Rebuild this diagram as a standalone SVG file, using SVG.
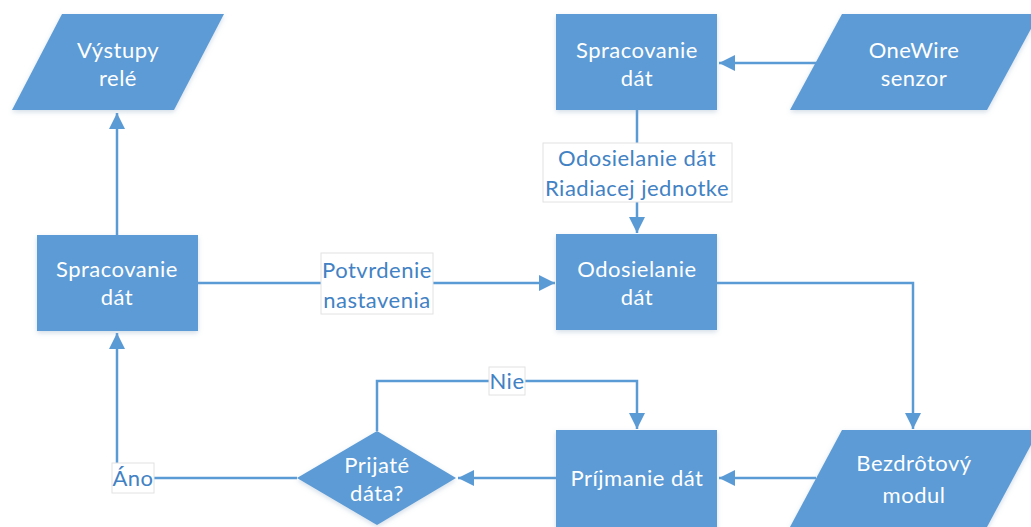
<svg xmlns="http://www.w3.org/2000/svg" width="1031" height="527" viewBox="0 0 1031 527">
  <defs>
    <style>
      .node { fill: #5B9BD5; filter: url(#shadow); }
      .ntext { fill: #FFFFFF; font-family: Lato, "Open Sans", sans-serif; font-size: 22px; letter-spacing: 0.5px; text-anchor: middle; }
      .edge { fill: none; stroke: #5B9BD5; stroke-width: 2.5; }
      .lbox { fill: #FFFFFF; stroke: #E2E2E2; stroke-width: 1; }
      .ltext { fill: #4282C4; font-family: Lato, "Open Sans", sans-serif; font-size: 22px; letter-spacing: 0.5px; text-anchor: middle; }
    </style>
    <filter id="shadow" x="-10%" y="-10%" width="120%" height="130%">
      <feDropShadow dx="0" dy="2" stdDeviation="2.5" flood-color="#7F9DBB" flood-opacity="0.35"/>
    </filter>
    <marker id="arrow" viewBox="0 0 16 16" refX="16" refY="8" markerWidth="16" markerHeight="16" markerUnits="userSpaceOnUse" orient="auto">
      <path d="M0,0 L16,8 L0,16 Z" fill="#5B9BD5"/>
    </marker>
  </defs>

  <!-- connectors -->
  <g id="connectors">
    <path class="edge" d="M117,235 V113" marker-end="url(#arrow)"/>
    <path class="edge" d="M842,63 H719" marker-end="url(#arrow)"/>
    <path class="edge" d="M637,110 V233" marker-end="url(#arrow)"/>
    <path class="edge" d="M198,283 H555" marker-end="url(#arrow)"/>
    <path class="edge" d="M717,283 H913 V429" marker-end="url(#arrow)"/>
    <path class="edge" d="M816,478 H719" marker-end="url(#arrow)"/>
    <path class="edge" d="M556,478 H458" marker-end="url(#arrow)"/>
    <path class="edge" d="M377,431 V381 H637 V429" marker-end="url(#arrow)"/>
    <path class="edge" d="M297,478 H117 V333" marker-end="url(#arrow)"/>

    <!-- edge labels -->
    <rect class="lbox" x="543" y="143" width="189" height="59"/>
    <text class="ltext" x="637" y="166">Odosielanie dát</text>
    <text class="ltext" x="637" y="196">Riadiacej jednotke</text>

    <rect class="lbox" x="321" y="253" width="112" height="61"/>
    <text class="ltext" x="377" y="278">Potvrdenie</text>
    <text class="ltext" x="377" y="308">nastavenia</text>

    <rect class="lbox" x="489" y="367" width="36" height="28"/>
    <text class="ltext" x="507" y="389">Nie</text>

    <rect class="lbox" x="112" y="463" width="42" height="30"/>
    <text class="ltext" x="133" y="486">Áno</text>
  </g>

  <g id="vystupy-rele">
    <polygon class="node" points="62,14 224,14 174,110 12,110"/>
    <text class="ntext" x="118" y="58">Výstupy</text>
    <text class="ntext" x="118" y="86">relé</text>
  </g>

  <g id="spracovanie-horne">
    <rect class="node" x="556" y="14" width="161" height="96"/>
    <text class="ntext" x="637" y="58">Spracovanie</text>
    <text class="ntext" x="637" y="86">dát</text>
  </g>

  <g id="onewire-senzor">
    <polygon class="node" points="842,14 1039,14 987,110 790,110"/>
    <text class="ntext" x="914" y="58">OneWire</text>
    <text class="ntext" x="914" y="86">senzor</text>
  </g>

  <g id="spracovanie-lave">
    <rect class="node" x="37" y="235" width="161" height="96"/>
    <text class="ntext" x="117" y="277">Spracovanie</text>
    <text class="ntext" x="117" y="305">dát</text>
  </g>

  <g id="odosielanie">
    <rect class="node" x="556" y="234" width="161" height="96"/>
    <text class="ntext" x="637" y="277">Odosielanie</text>
    <text class="ntext" x="637" y="305">dát</text>
  </g>

  <g id="bezdrotovy-modul">
    <polygon class="node" points="842,430 1039,430 987,527 790,527"/>
    <text class="ntext" x="914" y="471">Bezdrôtový</text>
    <text class="ntext" x="914" y="503">modul</text>
  </g>

  <g id="prijmanie">
    <rect class="node" x="556" y="430" width="161" height="100"/>
    <text class="ntext" x="637" y="486">Príjmanie dát</text>
  </g>

  <g id="prijate-data">
    <polygon class="node" points="377,431 456,478 377,525 297,478"/>
    <text class="ntext" x="377" y="473">Prijaté</text>
    <text class="ntext" x="377" y="501">dáta?</text>
  </g>
</svg>
